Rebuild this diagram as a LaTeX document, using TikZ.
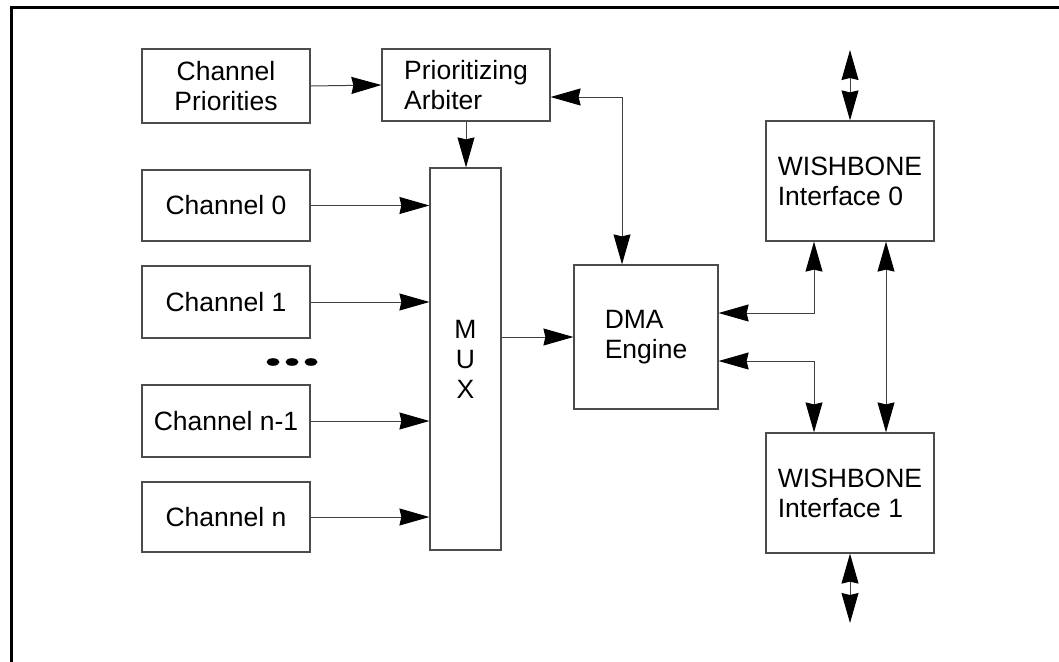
\documentclass[tikz,border=0pt]{standalone}
\usepackage{fontspec}
\setmainfont{Liberation Sans}
\usetikzlibrary{arrows.meta}
\begin{document}
\begin{tikzpicture}[x=1pt,y=-1pt,
  box/.style={draw=black!70,line width=1.2pt,inner sep=0pt,font=\fontsize{26.5}{30}\selectfont},
  tip/.tip={Stealth[length=30pt,width=17pt,inset=2pt,black]},
  arr/.style={draw=black!75,line width=1pt,-tip},
  darr/.style={draw=black!75,line width=1pt,tip-tip}]
\useasboundingbox (0,0) rectangle (1059,661);
\begin{scope}
\clip (0,0) rectangle (1059,661);
\draw[line width=3pt,black] (11,700) -- (11,7.5) -- (1100,7.5);
\end{scope}
% boxes
\node[box,minimum width=168pt,minimum height=74pt,align=center] (cp) at (226,86) {Channel\\Priorities};
\node[box,minimum width=168pt,minimum height=72pt,align=left] (arb) at (466,85) {Prioritizing\\Arbiter};
\node[box,minimum width=168pt,minimum height=71pt] (c0) at (226,205.5) {Channel 0};
\node[box,minimum width=168pt,minimum height=72pt] (c1) at (226,302) {Channel 1};
\node[box,minimum width=168pt,minimum height=72pt] (cn1) at (226,421) {Channel n-1};
\node[box,minimum width=168pt,minimum height=70pt] (cn) at (226,517) {Channel n};
\node[box,minimum width=71pt,minimum height=382pt,align=center] (mux) at (465.5,359) {M\\U\\X};
\node[box,minimum width=144pt,minimum height=144pt,align=left] (dma) at (646,337) {DMA\\Engine};
\node[box,minimum width=168pt,minimum height=120pt,align=left] (wb0) at (850,181) {WISHBONE\\Interface 0};
\node[box,minimum width=168pt,minimum height=120pt,align=left] (wb1) at (850,493) {WISHBONE\\Interface 1};
% dots
\fill (273,362) ellipse [x radius=6.5pt,y radius=3.8pt];
\fill (292,362) ellipse [x radius=6.5pt,y radius=3.8pt];
\fill (311,362) ellipse [x radius=6.5pt,y radius=3.8pt];
% coordinates
\coordinate (k1) at (622,97);
\coordinate (k2) at (814,313);
\coordinate (k3) at (814,361);
\coordinate (k4) at (886,300);
\coordinate (t0) at (850,50);
\coordinate (t1) at (850,623);
% connectors
\draw[arr] (cp.east) -- (arb.west);
\draw[arr] (arb.south) -- (arb.south |- mux.north);
\draw[arr] (c0.east) -- (c0.east -| mux.west);
\draw[arr] (c1.east) -- (c1.east -| mux.west);
\draw[arr] (cn1.east) -- (cn1.east -| mux.west);
\draw[arr] (cn.east) -- (cn.east -| mux.west);
\draw[arr] (dma.west -| mux.east) -- (dma.west);
\draw[darr] (arb.east |- k1) -- (k1) -- (k1 |- dma.north);
\draw[darr] (dma.east |- k2) -- (k2) -- (k2 |- wb0.south);
\draw[darr] (dma.east |- k3) -- (k3) -- (k3 |- wb1.north);
\draw[darr] (wb0.south -| k4) -- (wb1.north -| k4);
\draw[darr] (t0) -- (wb0.north);
\draw[darr] (wb1.south) -- (t1);
\end{tikzpicture}
\end{document}
